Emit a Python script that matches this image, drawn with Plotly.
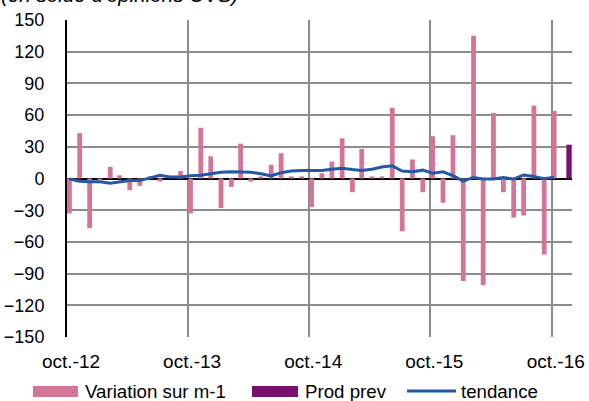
import pandas as pd
import plotly.graph_objects as go

# ---- data ----
months = pd.date_range("2012-10-01", "2016-10-01", freq="MS")
variation = [-33, 43, -47, -2, 11, 3, -11, -7, 2, -3, 0, 7,
             -33, 48, 21, -28, -8, 33, -3, 2, 13, 24, 2, 2,
             -27, 5, 16, 38, -13, 28, 2, 2, 67, -50, 18, -13,
             40, -23, 41, -97, 135, -101, 62, -13, -37, -35, 69, -72,
             64]
tendance = [-0.5, -2.5, -3, -3, -4.4, -3, -2, -2, 0.5, 3, 1.5, 1.5,
            2.5, 3, 4.5, 6, 6.5, 6.5, 6, 4.5, 2.5, 5.5, 7, 7.6,
            7.6, 7.6, 8.8, 9.8, 8.5, 7.6, 8.8, 10.8, 12, 7, 6.3, 7.9,
            5, 6.3, 2.8, -2.4, 1, -0.5, -0.5, 1, -0.5, 3.2, 2, -0.3,
            1.3]
prod_prev_dates = ["2016-11-01"]
prod_prev = [32]
tick_dates = ["2012-10-01", "2013-10-01", "2014-10-01", "2015-10-01", "2016-10-01"]
tick_labels = ["oct.-12", "oct.-13", "oct.-14", "oct.-15", "oct.-16"]
series_names = ["Variation sur m-1", "Prod prev", "tendance"]
title_text = "(en solde d'opinions CVS)"

PINK = "#D47598"
PURPLE = "#7B0F6E"
BLUE = "#2159A8"
DAY = 86400000
FONT = "Liberation Sans, Arial, sans-serif"

fig = go.Figure()
fig.add_trace(go.Bar(x=months, y=variation, name=series_names[0],
                     marker=dict(color=PINK, line=dict(width=0)),
                     offset=0, width=14.5 * DAY, showlegend=False))
fig.add_trace(go.Bar(x=pd.to_datetime(prod_prev_dates), y=prod_prev, name=series_names[1],
                     marker=dict(color=PURPLE, line=dict(width=0)),
                     offset=13 * DAY, width=16 * DAY, showlegend=False))
fig.add_trace(go.Scatter(x=months + pd.Timedelta(days=7), y=tendance, name=series_names[2],
                         mode="lines", line=dict(color=BLUE, width=3), showlegend=False))

L, R, T, B = 67, 17, 20, 64
W, H = 589, 401
pw, ph = W - L - R, H - T - B

def px_x(p):
    return (p - L) / pw

def px_y(p):
    return (H - B - p) / ph

fig.update_layout(
    width=W, height=H,
    margin=dict(l=L, r=R, t=T, b=B, pad=0, autoexpand=False),
    paper_bgcolor="white", plot_bgcolor="white",
    font=dict(family=FONT, size=18, color="black"),
    barmode="overlay",
    xaxis=dict(type="date", range=["2012-10-01", "2016-12-01"],
               tickvals=pd.to_datetime(tick_dates), ticktext=tick_labels,
               showgrid=True, gridcolor="#8c8c8c", gridwidth=1.5,
               showline=False, zeroline=False, automargin=False,
               ticks="outside", ticklen=7, tickcolor="rgba(0,0,0,0)",
               ticklabelshift=4,
               tickfont=dict(size=19)),
    yaxis=dict(range=[-150, 150], tick0=-150, dtick=30,
               showgrid=True, gridcolor="#8c8c8c", gridwidth=1.5,
               zeroline=True, zerolinecolor="black", zerolinewidth=2,
               showline=True, linecolor="black", linewidth=2, automargin=False,
               ticks="outside", ticklen=17, tickcolor="rgba(0,0,0,0)",
               tickfont=dict(size=18)),
)

# title (partially above the canvas, as in the reference)
fig.add_annotation(text="<i>" + title_text + "</i>", xref="paper", yref="paper",
                   x=px_x(-1), y=px_y(-6), xanchor="left", yanchor="middle",
                   showarrow=False, font=dict(size=20.6, family=FONT, color="black"))

# legend drawn at the bottom
ly = 391
fig.add_shape(type="rect", xref="paper", yref="paper",
              x0=px_x(33), x1=px_x(78), y0=px_y(397), y1=px_y(386),
              fillcolor=PINK, line=dict(width=0))
fig.add_shape(type="rect", xref="paper", yref="paper",
              x0=px_x(252), x1=px_x(298), y0=px_y(397), y1=px_y(386),
              fillcolor=PURPLE, line=dict(width=0))
fig.add_shape(type="line", xref="paper", yref="paper",
              x0=px_x(407), x1=px_x(456), y0=px_y(ly), y1=px_y(ly),
              line=dict(color=BLUE, width=3))
for xt, name in zip([83, 303, 459], series_names):
    fig.add_annotation(text=name, xref="paper", yref="paper",
                       x=px_x(xt), y=px_y(ly), xanchor="left", yanchor="middle",
                       showarrow=False, font=dict(size=18.7, family=FONT, color="black"))

fig.write_html("out.html",
               config={"displayModeBar": False},
               post_script="document.body.style.margin='0';document.body.style.overflow='hidden';")
